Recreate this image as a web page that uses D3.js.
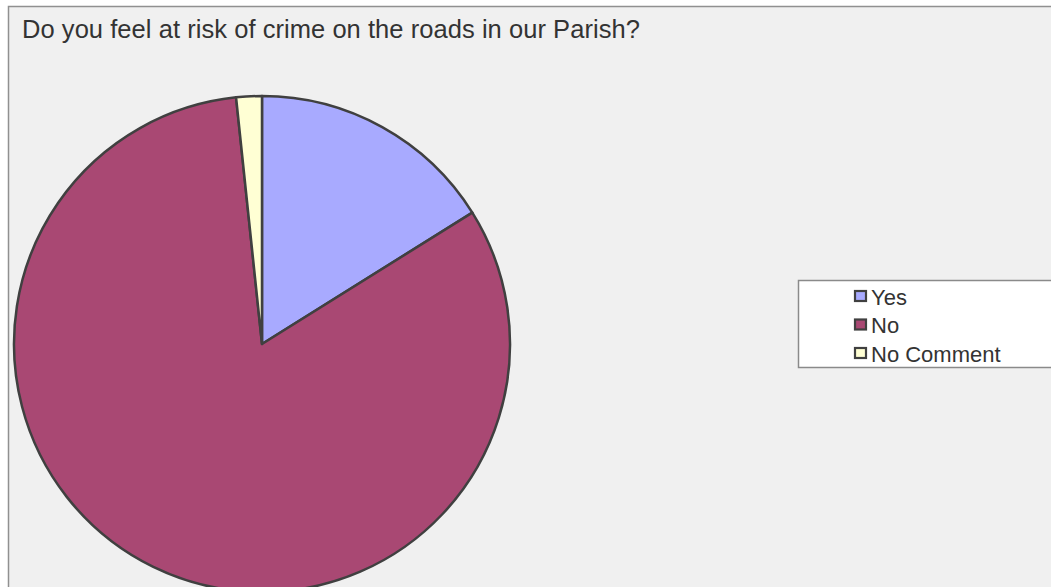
<!DOCTYPE html>
<html>
<head>
<meta charset="utf-8">
<script src="https://cdn.jsdelivr.net/npm/d3@7"></script>
<style>
html,body{margin:0;padding:0;background:#ffffff;overflow:hidden;}
svg{display:block;}
text{font-family:"Liberation Sans",Arial,sans-serif;fill:#333333;}
</style>
</head>
<body>
<svg id="chart" width="1051" height="587"></svg>
<script>
const title = "Do you feel at risk of crime on the roads in our Parish?";
const categories = ["Yes", "No", "No Comment"];
const values = [29, 148, 3];
const colors = ["#a8aaff", "#a94873", "#ffffd4"];

const W = 1051, H = 587;
const svg = d3.select("#chart");

// chart frame
svg.append("rect")
  .attr("x", 8.5).attr("y", 6.5)
  .attr("width", W + 20).attr("height", H + 20)
  .attr("fill", "#f0f0f0")
  .attr("stroke", "#909090").attr("stroke-width", 1.5);

// title
svg.append("text")
  .attr("x", 22).attr("y", 38)
  .style("font-size", "25.5px")
  .style("letter-spacing", "0.05px")
  .text(title);

// pie
const cx = 262, cy = 344, r = 248;
const data = categories.map((c, i) => ({cat: c, value: values[i], color: colors[i]}));
const pie = d3.pie().sort(null).value(d => d.value).startAngle(0).endAngle(2 * Math.PI);
const arc = d3.arc().innerRadius(0).outerRadius(r);

const g = svg.append("g").attr("transform", `translate(${cx},${cy})`);
g.selectAll("path")
  .data(pie(data))
  .join("path")
  .attr("d", arc)
  .attr("fill", d => d.data.color)
  .attr("stroke", "#404040")
  .attr("stroke-width", 2.5)
  .attr("stroke-linejoin", "round");

// legend
const lg = svg.append("g");
lg.append("rect")
  .attr("x", 798.5).attr("y", 280.5)
  .attr("width", 300).attr("height", 87)
  .attr("fill", "#ffffff")
  .attr("stroke", "#8a8a8a").attr("stroke-width", 1.5);

const rowY = d3.scalePoint().domain(categories).range([296, 353]);
const items = lg.selectAll("g.item")
  .data(data)
  .join("g")
  .attr("class", "item")
  .attr("transform", d => `translate(855,${rowY(d.cat)})`);
items.append("rect")
  .attr("x", 0).attr("y", -5)
  .attr("width", 11).attr("height", 10)
  .attr("fill", d => d.color)
  .attr("stroke", "#404040").attr("stroke-width", 2.2);
items.append("text")
  .attr("x", 16).attr("y", 8.5)
  .style("font-size", "22px")
  .text(d => d.cat);
</script>
</body>
</html>
